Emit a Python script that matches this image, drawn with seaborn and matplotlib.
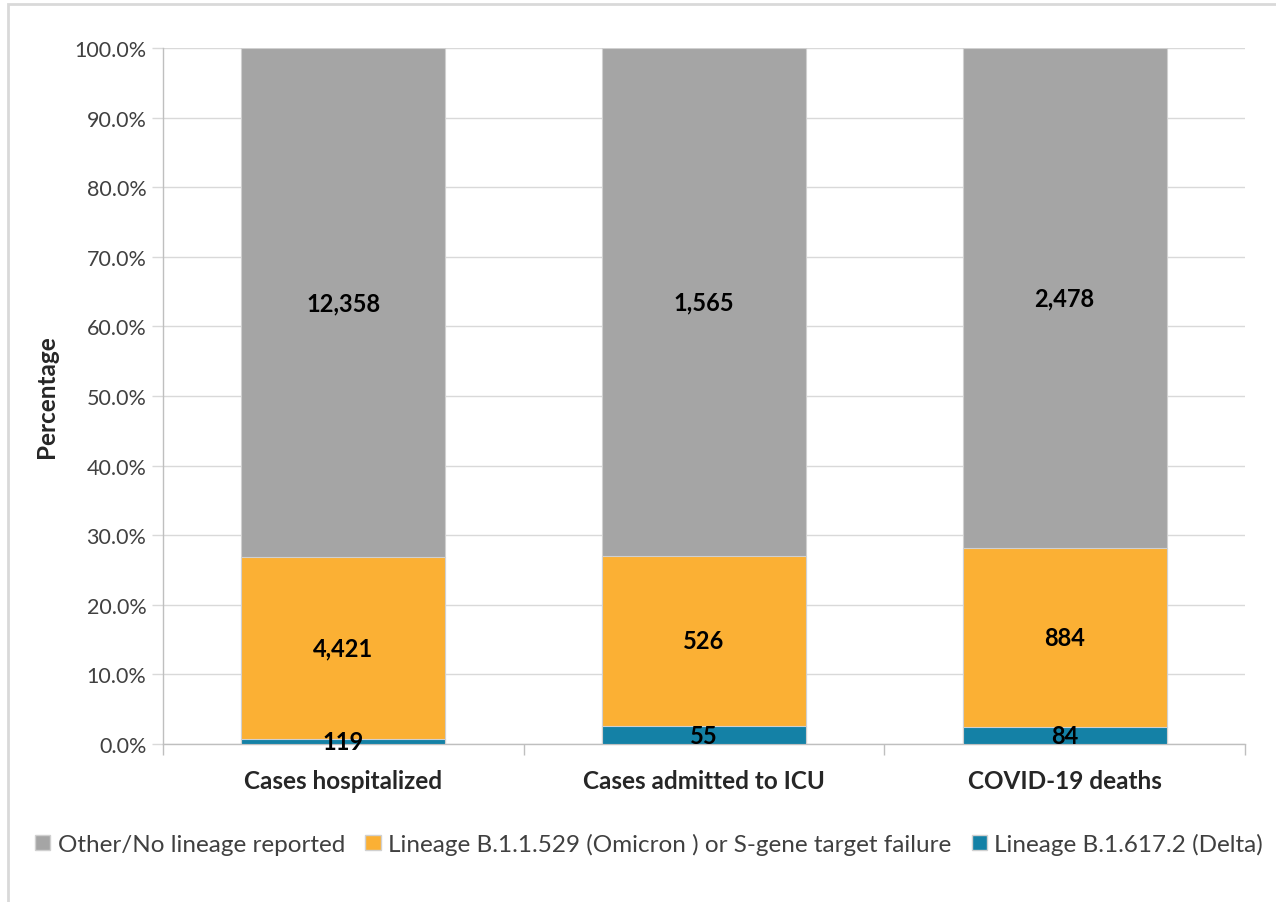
import numpy as np
import pandas as pd
import matplotlib.pyplot as plt
import matplotlib.patches as mpatches
import seaborn as sns
from matplotlib.ticker import FuncFormatter

# data
categories = ['Cases hospitalized', 'Cases admitted to ICU', 'COVID-19 deaths']
delta = [119, 55, 84]
omicron = [4421, 526, 884]
other = [12358, 1565, 2478]
series_names = ['Other/No lineage reported',
                'Lineage B.1.1.529 (Omicron ) or S-gene target failure',
                'Lineage B.1.617.2 (Delta)']
colors = {'other': '#A5A5A5', 'omicron': '#FBB034', 'delta': '#1481A6'}

df = pd.DataFrame({'cat': categories, 'delta': delta, 'omicron': omicron, 'other': other})
df['total'] = df[['delta', 'omicron', 'other']].sum(axis=1)
df['cum1'] = df['delta'] / df['total'] * 100
df['cum2'] = (df['delta'] + df['omicron']) / df['total'] * 100
df['cum3'] = 100.0

sns.set_theme(style='white')
plt.rcParams['font.family'] = ['Lato', 'DejaVu Sans']

fig = plt.figure(figsize=(12.76, 9.03), dpi=100)
ax = fig.add_axes([163 / 1276, 1 - 745 / 903, (1245 - 163) / 1276, (745 - 49) / 903])

bw = 0.565
edge = '#D0D0D0'
sns.barplot(data=df, x='cat', y='cum3', color=colors['other'], width=bw, ax=ax,
            saturation=1, edgecolor=edge, linewidth=0.8, zorder=2)
sns.barplot(data=df, x='cat', y='cum2', color=colors['omicron'], width=bw, ax=ax,
            saturation=1, edgecolor=edge, linewidth=0.8, zorder=3)
sns.barplot(data=df, x='cat', y='cum1', color=colors['delta'], width=bw, ax=ax,
            saturation=1, edgecolor=edge, linewidth=0.8, zorder=4)

# segment labels (counts, centred in each segment)
lab_fs = 17
for i, row in df.iterrows():
    ax.text(i, row['cum1'] / 2, f"{row['delta']:,}", ha='center', va='center',
            fontsize=lab_fs, fontweight='bold', color='black', zorder=6)
    ax.text(i, (row['cum1'] + row['cum2']) / 2, f"{row['omicron']:,}", ha='center', va='center',
            fontsize=lab_fs, fontweight='bold', color='black', zorder=6)
    ax.text(i, (row['cum2'] + row['cum3']) / 2, f"{row['other']:,}", ha='center', va='center',
            fontsize=lab_fs, fontweight='bold', color='black', zorder=6)

ax.set_xlim(-0.5, 2.5)
ax.set_ylim(0, 100)
ax.set_yticks(np.arange(0, 101, 10))
ax.yaxis.set_major_formatter(FuncFormatter(lambda v, p: f'{v:.1f}%'))
ax.yaxis.grid(True, color='#D9D9D9', linewidth=1, zorder=0)
ax.set_axisbelow(True)

ax.set_xticks([-0.5, 0.5, 1.5, 2.5])
ax.set_xticklabels([])
ax.set_xticks([0, 1, 2], minor=True)
ax.set_xticklabels(categories, minor=True, fontsize=17.5, fontweight='bold')
ax.tick_params(axis='x', which='major', length=8, width=1, color='#BFBFBF', direction='out', bottom=True)
ax.tick_params(axis='x', which='minor', length=0, pad=18)
ax.tick_params(axis='y', length=8, width=1, color='#D9D9D9', direction='out', left=True,
               labelsize=15.5, labelcolor='#404040', pad=4)
ax.set_xlabel('')
ax.set_ylabel('Percentage', fontsize=17.5, fontweight='bold', labelpad=12)

for s in ['top', 'right']:
    ax.spines[s].set_visible(False)
ax.spines['left'].set_color('#BFBFBF')
ax.spines['bottom'].set_color('#BFBFBF')
ax.spines['left'].set_linewidth(1)
ax.spines['bottom'].set_linewidth(1)

handles = [mpatches.Patch(facecolor=colors['other'], edgecolor=edge),
           mpatches.Patch(facecolor=colors['omicron'], edgecolor=edge),
           mpatches.Patch(facecolor=colors['delta'], edgecolor=edge)]
fig.legend(handles, series_names, loc='center', bbox_to_anchor=(649 / 1276, 1 - 845 / 903),
           ncol=3, frameon=False, fontsize=17.5, handlelength=0.62, handleheight=0.62,
           handletextpad=0.3, columnspacing=0.85, labelcolor='#404040', borderpad=0)

# outer border of the chart area
fig.patches.append(mpatches.Rectangle((8 / 1276, -0.05), 1.1, 1 - 5 / 903 + 0.05,
                                      transform=fig.transFigure, fill=False,
                                      edgecolor='#D9D9D9', linewidth=2))

fig.savefig('out.png', dpi=100)
